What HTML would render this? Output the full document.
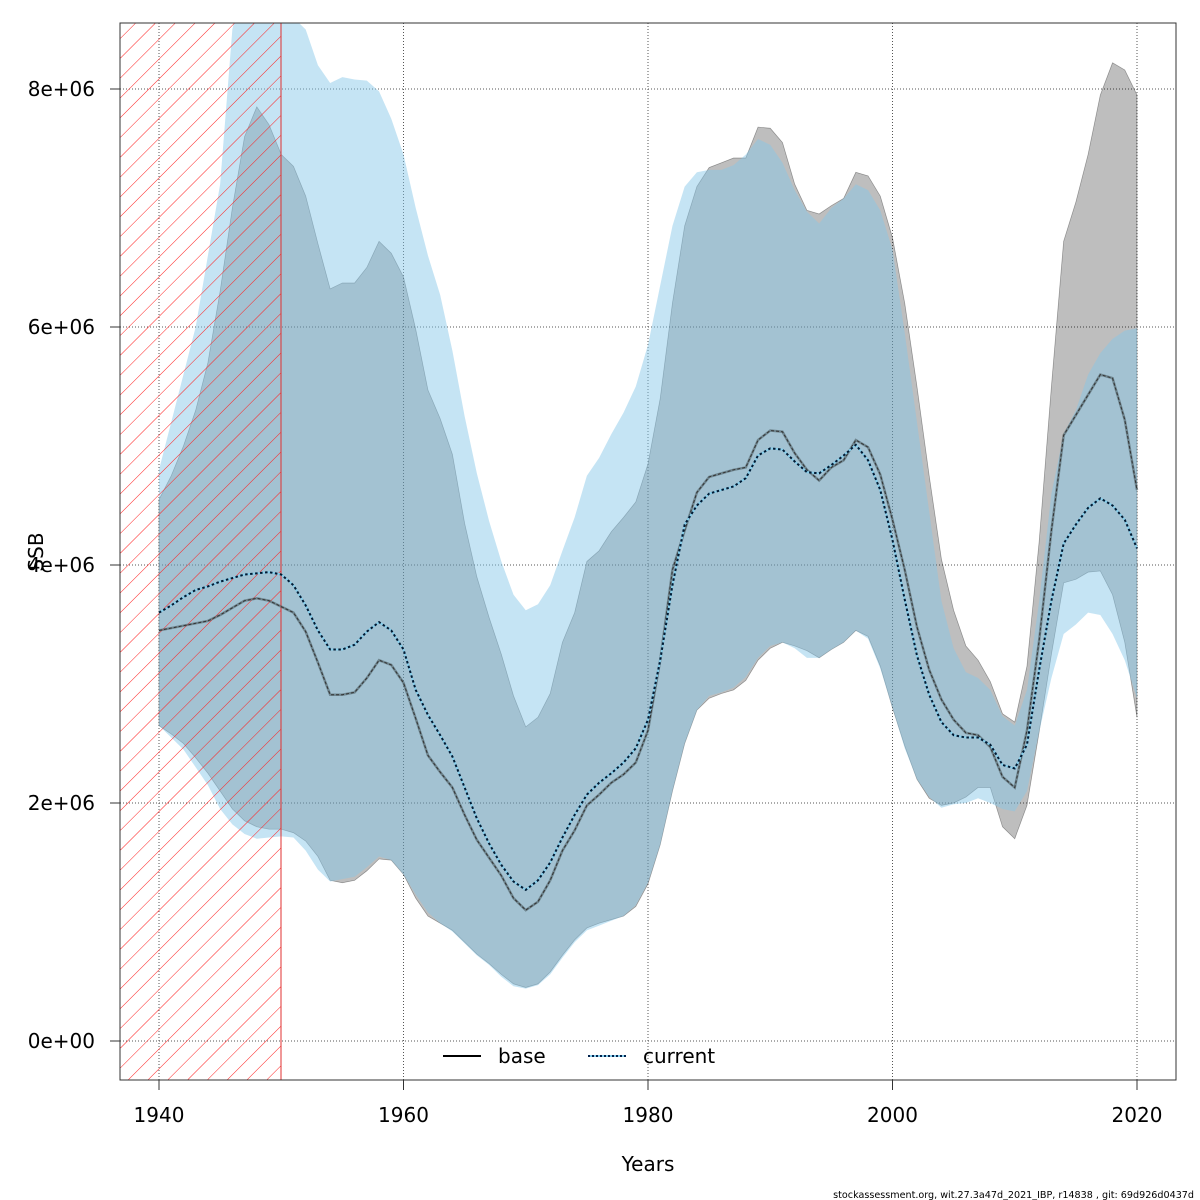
<!DOCTYPE html>
<html><head><meta charset="utf-8"><style>
body{margin:0;background:#fff}
svg{display:block;font-family:"DejaVu Sans","Liberation Sans",sans-serif}
</style></head><body>
<svg id="chart" width="1200" height="1200" viewBox="0 0 1200 1200">
<defs>
<clipPath id="plotclip"><rect x="120" y="23" width="1056" height="1057"/></clipPath>
<pattern id="hatch" patternUnits="userSpaceOnUse" width="14" height="14" patternTransform="rotate(45)">
<line x1="0" y1="0" x2="0" y2="14" stroke="#ff2020" stroke-width="1"/>
</pattern>
</defs>
<g id="grid"></g>
<g id="bands" clip-path="url(#plotclip)"></g>
<rect x="120" y="23" width="161" height="1057" fill="url(#hatch)" stroke="#e03030" stroke-width="1"/>
<g id="lines" clip-path="url(#plotclip)"></g>
<rect x="120" y="23" width="1056" height="1057" fill="none" stroke="#333" stroke-width="1"/>
<g id="axes"></g>
<text x="43" y="552" font-size="20" text-anchor="middle" transform="rotate(-90 43 552)">SSB</text>
<text x="648" y="1171" font-size="20" text-anchor="middle">Years</text>
<g>
<line x1="443" y1="1056" x2="481" y2="1056" stroke="#000" stroke-width="2"/>
<text x="498" y="1063" font-size="20">base</text>
<line x1="588" y1="1056" x2="626" y2="1056" stroke="#87ceeb" stroke-width="2"/>
<line x1="588" y1="1056" x2="626" y2="1056" stroke="#00224d" stroke-width="2" stroke-dasharray="2,2"/>
<text x="643" y="1063" font-size="20">current</text>
</g>
<text x="1194" y="1198" font-size="9.6" text-anchor="end">stockassessment.org, wit.27.3a47d_2021_IBP, r14838 , git: 69d926d0437d</text>
</svg>
<script>
const years=[];for(let y=1940;y<=2020;y++)years.push(y);
const baseSSB=[3.45,3.47,3.49,3.51,3.53,3.58,3.64,3.70,3.72,3.70,3.65,3.60,3.44,3.18,2.91,2.91,2.93,3.05,3.20,3.16,3.01,2.71,2.40,2.26,2.13,1.90,1.69,1.54,1.39,1.20,1.10,1.17,1.35,1.60,1.77,1.98,2.07,2.17,2.24,2.34,2.61,3.20,3.96,4.29,4.61,4.74,4.77,4.80,4.82,5.05,5.13,5.12,4.94,4.80,4.71,4.82,4.88,5.05,4.99,4.76,4.38,3.96,3.48,3.12,2.87,2.70,2.59,2.57,2.47,2.22,2.13,2.61,3.37,4.29,5.09,5.26,5.43,5.60,5.57,5.22,4.63];
const currentSSB=[3.60,3.66,3.73,3.79,3.82,3.86,3.89,3.92,3.93,3.94,3.92,3.83,3.66,3.45,3.29,3.29,3.33,3.44,3.52,3.45,3.29,2.95,2.74,2.57,2.39,2.13,1.87,1.66,1.48,1.34,1.27,1.35,1.50,1.71,1.90,2.07,2.17,2.25,2.34,2.46,2.70,3.20,3.83,4.34,4.50,4.60,4.63,4.66,4.73,4.92,4.98,4.97,4.87,4.78,4.77,4.84,4.92,5.01,4.88,4.63,4.21,3.71,3.24,2.91,2.68,2.57,2.55,2.55,2.49,2.32,2.29,2.49,3.12,3.70,4.18,4.34,4.48,4.56,4.50,4.38,4.14];
const baseUpper=[4.55,4.75,5.0,5.3,5.7,6.3,7.0,7.6,7.85,7.7,7.45,7.35,7.1,6.7,6.32,6.37,6.37,6.5,6.72,6.62,6.42,5.98,5.47,5.23,4.93,4.35,3.9,3.56,3.25,2.9,2.64,2.72,2.92,3.35,3.6,4.03,4.12,4.28,4.4,4.53,4.85,5.4,6.2,6.85,7.18,7.34,7.38,7.42,7.42,7.68,7.67,7.55,7.2,6.98,6.95,7.02,7.08,7.3,7.27,7.1,6.75,6.2,5.5,4.75,4.05,3.62,3.32,3.2,3.02,2.75,2.68,3.15,4.2,5.5,6.72,7.05,7.45,7.95,8.22,8.16,7.95];
const baseLower=[2.65,2.58,2.5,2.38,2.25,2.1,1.95,1.85,1.8,1.78,1.78,1.75,1.68,1.55,1.35,1.33,1.35,1.43,1.53,1.52,1.4,1.2,1.05,0.99,0.93,0.83,0.73,0.65,0.56,0.48,0.45,0.48,0.58,0.72,0.85,0.95,0.99,1.02,1.05,1.13,1.32,1.65,2.1,2.5,2.78,2.88,2.92,2.95,3.03,3.2,3.3,3.35,3.32,3.28,3.22,3.29,3.35,3.45,3.4,3.15,2.8,2.48,2.2,2.04,1.98,2.0,2.05,2.13,2.13,1.8,1.7,1.98,2.6,3.25,3.85,3.88,3.94,3.95,3.75,3.35,2.72];
const curUpper=[4.8,5.2,5.6,6.0,6.6,7.2,8.5,9.0,9.5,9.5,9.0,8.6,8.5,8.2,8.05,8.1,8.08,8.07,7.98,7.75,7.45,7.0,6.6,6.27,5.8,5.25,4.77,4.37,4.03,3.75,3.62,3.67,3.83,4.12,4.4,4.75,4.9,5.1,5.28,5.5,5.85,6.35,6.85,7.18,7.3,7.32,7.32,7.36,7.45,7.58,7.53,7.38,7.15,6.97,6.87,7.0,7.08,7.2,7.15,6.98,6.65,5.95,5.2,4.45,3.7,3.3,3.1,3.05,2.95,2.73,2.65,2.95,3.7,4.6,5.1,5.3,5.6,5.78,5.9,5.97,5.99];
const curLower=[2.65,2.55,2.45,2.3,2.15,1.95,1.82,1.74,1.7,1.71,1.72,1.71,1.6,1.44,1.34,1.36,1.38,1.46,1.55,1.52,1.4,1.23,1.08,0.99,0.92,0.82,0.72,0.64,0.54,0.46,0.44,0.47,0.56,0.7,0.83,0.93,0.97,1.01,1.05,1.14,1.33,1.65,2.1,2.5,2.78,2.9,2.93,2.97,3.06,3.22,3.32,3.35,3.3,3.22,3.22,3.29,3.35,3.45,3.38,3.13,2.8,2.46,2.2,2.05,1.96,1.99,2.0,2.04,2.0,1.95,1.93,2.1,2.6,3.05,3.42,3.5,3.6,3.58,3.42,3.2,2.88];
const xTicks=[1940,1960,1980,2000,2020];
const yTicks=[0,2,4,6,8];
const yTickLabels=["0e+00","2e+06","4e+06","6e+06","8e+06"];

const NS="http://www.w3.org/2000/svg";
const X=y=>159+(y-1940)*(978/80);
const Y=v=>1041-v*119;
function mk(tag,attrs,parent){const e=document.createElementNS(NS,tag);for(const k in attrs)e.setAttribute(k,attrs[k]);parent.appendChild(e);return e;}
const grid=document.getElementById('grid'),bands=document.getElementById('bands'),lines=document.getElementById('lines'),axes=document.getElementById('axes');
xTicks.forEach(t=>{const l=mk('line',{x1:X(t),x2:X(t),y1:23,y2:1080,stroke:'#555','stroke-width':1,'stroke-dasharray':'1,2'},grid);


mk('line',{x1:X(t),x2:X(t),y1:1080,y2:1090,stroke:'#333'},axes);
const tx=mk('text',{x:X(t),y:1122,'font-size':20,'text-anchor':'middle'},axes);tx.textContent=t;

});
yTicks.forEach((t,i)=>{const l=mk('line',{x1:120,x2:1176,y1:Y(t),y2:Y(t),stroke:'#555','stroke-width':1,'stroke-dasharray':'1,2'},grid);


mk('line',{x1:110,x2:120,y1:Y(t),y2:Y(t),stroke:'#333'},axes);
const tx=mk('text',{x:95,y:Y(t)+7,'font-size':20,'text-anchor':'end'},axes);tx.textContent=yTickLabels[i];

});
function band(up,lo){let d='';years.forEach((y,i)=>{d+=(i?'L':'M')+X(y)+','+Y(up[i]);});for(let i=years.length-1;i>=0;i--)d+='L'+X(years[i])+','+Y(lo[i]);return d+'Z';}
function line(v){return years.map((y,i)=>(i?'L':'M')+X(y)+','+Y(v[i])).join('');}
const gb=mk('path',{d:band(baseUpper,baseLower),fill:'rgba(0,0,0,0.255)',stroke:'rgba(0,0,0,0.35)','stroke-width':0.7},bands);


const cb=mk('path',{d:band(curUpper,curLower),fill:'rgba(133,198,232,0.48)',stroke:'none'},bands);


const bl=mk('path',{d:line(baseSSB),fill:'none',stroke:'rgba(70,85,90,0.55)','stroke-width':2.5},lines);


mk('path',{d:line(baseSSB),fill:'none',stroke:'#333','stroke-width':1,'stroke-dasharray':'3,2'},lines);
const cl=mk('path',{d:line(currentSSB),fill:'none',stroke:'#87ceeb','stroke-width':2},lines);


mk('path',{d:line(currentSSB),fill:'none',stroke:'#001a33','stroke-width':2,'stroke-dasharray':'2.5,2.5'},lines);
</script>
</body></html>
